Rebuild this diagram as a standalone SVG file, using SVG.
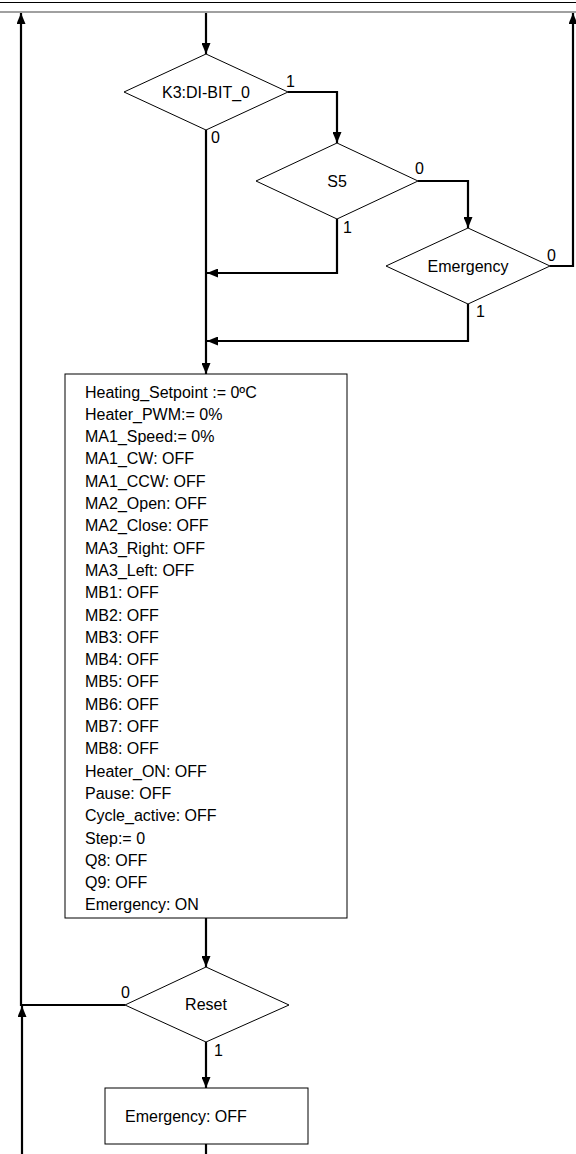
<svg xmlns="http://www.w3.org/2000/svg" width="576" height="1154" viewBox="0 0 576 1154">
<style>
.shape{fill:#fff;stroke:#000;stroke-width:1}
.conn{fill:none;stroke:#000;stroke-width:2.2}
.t{font-family:"Liberation Sans",Arial,sans-serif;font-size:16px;fill:#000}
.c{text-anchor:middle}
.lbl{font-family:"Liberation Sans",Arial,sans-serif;font-size:16px;fill:#000}
</style>
<defs>
<marker id="ah" markerUnits="userSpaceOnUse" markerWidth="11" markerHeight="9" refX="11" refY="4.5" orient="auto">
<path d="M0,0 L11,4.5 L0,9 z" fill="#000"/>
</marker>
</defs>
<rect width="576" height="1154" fill="#fff"/>
<line x1="0" y1="2.5" x2="576" y2="2.5" stroke="#000" stroke-width="1"/>
<line x1="0" y1="12" x2="576" y2="12" stroke="#808080" stroke-width="1.5"/>

<g id="connectors">
<path class="conn" d="M206,13 L206,54" marker-end="url(#ah)"/>
<path class="conn" d="M288,92 L337,92 L337,143" marker-end="url(#ah)"/>
<path class="conn" d="M206,130 L206,374" marker-end="url(#ah)"/>
<path class="conn" d="M418,181 L468,181 L468,228" marker-end="url(#ah)"/>
<path class="conn" d="M337,219 L337,273 L207,273" marker-end="url(#ah)"/>
<path class="conn" d="M550,266 L573,266 L573,13" marker-end="url(#ah)"/>
<path class="conn" d="M468,304 L468,341 L207,341" marker-end="url(#ah)"/>
<path class="conn" d="M206,918 L206,967" marker-end="url(#ah)"/>
<path class="conn" d="M125,1005 L21,1005 L21,13" marker-end="url(#ah)"/>
<path class="conn" d="M22,1154 L22,1006" marker-end="url(#ah)"/>
<path class="conn" d="M206,1042 L206,1088" marker-end="url(#ah)"/>
<path class="conn" d="M206,1144 L206,1154"/>
</g>

<g id="k3">
<polygon class="shape" points="206,54 288,92 206,130 124,92"/>
<text class="t c" x="206" y="98">K3:DI-BIT_0</text>
<text class="lbl" x="286" y="87">1</text>
<text class="lbl" x="211" y="143">0</text>
</g>

<g id="s5">
<polygon class="shape" points="337,143 418,181 337,219 256,181"/>
<text class="t c" x="337" y="187">S5</text>
<text class="lbl" x="415" y="174">0</text>
<text class="lbl" x="343" y="233">1</text>
</g>

<g id="emergency">
<polygon class="shape" points="468,228 550,266 468,304 386,266"/>
<text class="t c" x="468" y="272">Emergency</text>
<text class="lbl" x="547" y="261">0</text>
<text class="lbl" x="476" y="317">1</text>
</g>

<g id="reset-actions">
<rect class="shape" x="65" y="374" width="282" height="544"/>
<text class="t" x="85">
<tspan x="85" y="397.5">Heating_Setpoint := 0ºC</tspan>
<tspan x="85" y="419.8">Heater_PWM:= 0%</tspan>
<tspan x="85" y="442.1">MA1_Speed:= 0%</tspan>
<tspan x="85" y="464.4">MA1_CW: OFF</tspan>
<tspan x="85" y="486.7">MA1_CCW: OFF</tspan>
<tspan x="85" y="509.0">MA2_Open: OFF</tspan>
<tspan x="85" y="531.3">MA2_Close: OFF</tspan>
<tspan x="85" y="553.6">MA3_Right: OFF</tspan>
<tspan x="85" y="575.9">MA3_Left: OFF</tspan>
<tspan x="85" y="598.2">MB1: OFF</tspan>
<tspan x="85" y="620.5">MB2: OFF</tspan>
<tspan x="85" y="642.8">MB3: OFF</tspan>
<tspan x="85" y="665.1">MB4: OFF</tspan>
<tspan x="85" y="687.4">MB5: OFF</tspan>
<tspan x="85" y="709.7">MB6: OFF</tspan>
<tspan x="85" y="732.0">MB7: OFF</tspan>
<tspan x="85" y="754.3">MB8: OFF</tspan>
<tspan x="85" y="776.6">Heater_ON: OFF</tspan>
<tspan x="85" y="798.9">Pause: OFF</tspan>
<tspan x="85" y="821.2">Cycle_active: OFF</tspan>
<tspan x="85" y="843.5">Step:= 0</tspan>
<tspan x="85" y="865.8">Q8: OFF</tspan>
<tspan x="85" y="888.1">Q9: OFF</tspan>
<tspan x="85" y="910.4">Emergency: ON</tspan>
</text>
</g>

<g id="reset">
<polygon class="shape" points="206,967 289,1005 206,1042 125,1005"/>
<text class="t c" x="206" y="1010">Reset</text>
<text class="lbl" x="121" y="998">0</text>
<text class="lbl" x="214" y="1056">1</text>
</g>

<g id="emergency-off">
<rect class="shape" x="105" y="1088" width="203" height="56"/>
<text class="t" x="125" y="1122">Emergency: OFF</text>
</g>
</svg>
